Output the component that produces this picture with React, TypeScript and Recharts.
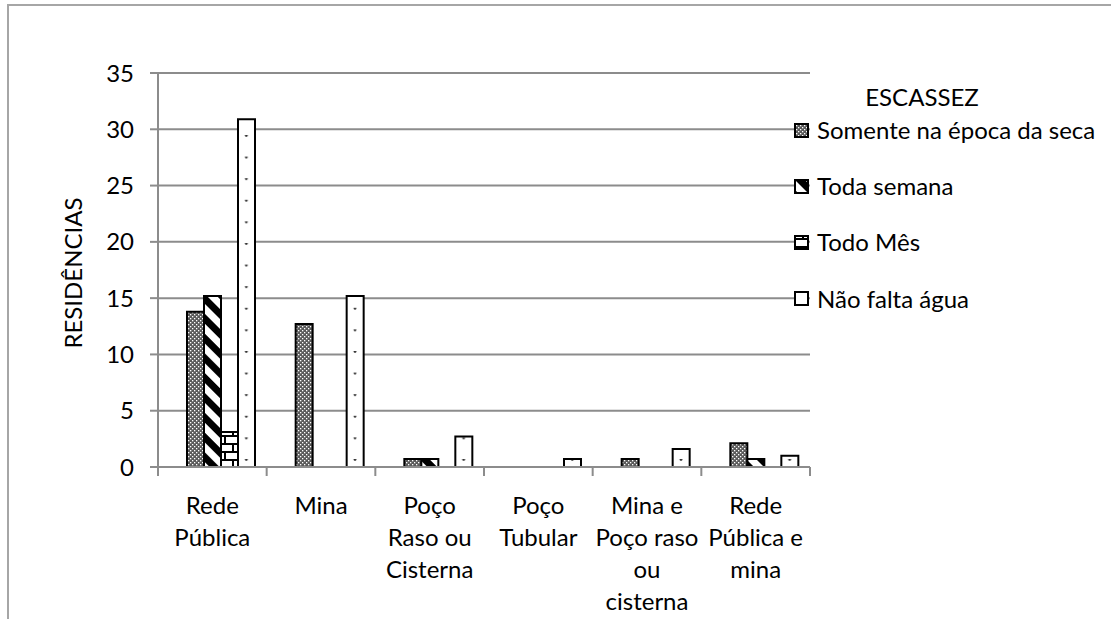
import React from 'react';
import { BarChart, Bar, XAxis, YAxis, CartesianGrid, Label } from 'recharts';

const categories = [
  'Rede Pública',
  'Mina',
  'Poço Raso ou Cisterna',
  'Poço Tubular',
  'Mina e Poço raso ou cisterna',
  'Rede Pública e mina',
];
const categoryLines = [
  ['Rede', 'Pública'],
  ['Mina'],
  ['Poço', 'Raso ou', 'Cisterna'],
  ['Poço', 'Tubular'],
  ['Mina e', 'Poço raso', 'ou', 'cisterna'],
  ['Rede', 'Pública e', 'mina'],
];
const seriesNames = ['Somente na época da seca', 'Toda semana', 'Todo Mês', 'Não falta água'];
const somente = [13.8, 12.7, 0.7, null, 0.7, 2.1];
const todaSemana = [15.2, null, 0.7, null, null, 0.7];
const todoMes = [3.1, null, null, null, null, null];
const naoFalta = [30.9, 15.2, 2.7, 0.7, 1.6, 1.0];
const yTicks = [0, 5, 10, 15, 20, 25, 30, 35];
const legendTitle = 'ESCASSEZ';
const yTitle = 'RESIDÊNCIAS';

const data = categories.map((name, i) => ({
  name,
  somente: somente[i],
  todaSemana: todaSemana[i],
  todoMes: todoMes[i],
  naoFalta: naoFalta[i],
}));

const FONT = 'Lato, "Open Sans", sans-serif';
const FS = 24;
const W = 1111;
const H = 619;
const PLOT_LEFT = 158;
const PLOT_RIGHT = 810;
const PLOT_TOP = 73;
const PLOT_BOTTOM = 467;
const BAND = (PLOT_RIGHT - PLOT_LEFT) / categories.length;
const BAR = 17;
const GRID = '#8c8c8c';
const NF_OFFSET = (PLOT_LEFT + BAND / 2 + 2 * BAR) % BAND;

const Patterns = ({ p }: { p: string }) => (
  <defs>
    <pattern id={`${p}-dots`} patternUnits="userSpaceOnUse" width="4" height="4">
      <rect x="0" y="0" width="4" height="4" fill="#5a5a5a" />
      <rect x="0" y="0" width="1.3" height="1.3" fill="#ffffff" />
      <rect x="2" y="2" width="1.3" height="1.3" fill="#ffffff" />
    </pattern>
    <pattern id={`${p}-diag`} patternUnits="userSpaceOnUse" width="14" height="14" patternTransform="rotate(-45)">
      <rect x="0" y="0" width="14" height="14" fill="#ffffff" />
      <rect x="0" y="0" width="7" height="14" fill="#000000" />
    </pattern>
    <pattern id={`${p}-brick`} patternUnits="userSpaceOnUse" width="16" height="16" y={PLOT_BOTTOM % 16}>
      <rect x="0" y="0" width="16" height="16" fill="#ffffff" />
      <rect x="0" y="0" width="16" height="2" fill="#000" />
      <rect x="0" y="8" width="16" height="2" fill="#000" />
      <rect x="0" y="0" width="2" height="8" fill="#000" />
      <rect x="8" y="8" width="2" height="8" fill="#000" />
    </pattern>
    <pattern id={`${p}-sparse`} patternUnits="userSpaceOnUse" width={BAND} height="21.6" x="0" y="5.4">
      <rect x="0" y="0" width={BAND} height="21.6" fill="#ffffff" />
      <circle cx={NF_OFFSET} cy="0.6" r="1.4" fill="#333" />
    </pattern>
  </defs>
);

const fills = ['dots', 'diag', 'brick', 'sparse'];

const XTick = (props: any) => {
  const { x, index } = props;
  const lines = categoryLines[index] || [];
  const isLast = index === categories.length - 1;
  return (
    <g>
      <line x1={x - BAND / 2} x2={x - BAND / 2} y1={PLOT_BOTTOM} y2={PLOT_BOTTOM + 9} stroke={GRID} strokeWidth={2} />
      {isLast && (
        <line x1={x + BAND / 2} x2={x + BAND / 2} y1={PLOT_BOTTOM} y2={PLOT_BOTTOM + 9} stroke={GRID} strokeWidth={2} />
      )}
      {lines.map((ln, i) => (
        <text key={i} x={x} y={514 + i * 32} textAnchor="middle" fontFamily={FONT} fontSize={FS} fill="#000">
          {ln}
        </text>
      ))}
    </g>
  );
};

const LegendBox = () => (
  <div style={{ position: 'absolute', left: 0, top: 0, width: W, height: H, pointerEvents: 'none', fontFamily: FONT, fontSize: FS, color: '#000' }}>
    <div style={{ position: 'absolute', left: 822, width: 200, top: 97 - 15, lineHeight: '30px', textAlign: 'center' }}>{legendTitle}</div>
    {seriesNames.map((n, i) => {
      const cy = 130 + i * 56.2;
      return (
        <div key={n} style={{ position: 'absolute', left: 794, top: cy - 15, height: 30, display: 'flex', alignItems: 'center', whiteSpace: 'nowrap' }}>
          <svg width="15" height="15" style={{ display: 'block' }}>
            <Patterns p={`lg${i}`} />
            <rect x="1" y="1" width="13" height="13" fill={`url(#lg${i}-${fills[i]})`} stroke="#000" strokeWidth="2" />
          </svg>
          <span style={{ marginLeft: 8, lineHeight: '30px' }}>{n}</span>
        </div>
      );
    })}
  </div>
);

export default function App() {
  return (
    <div style={{ position: 'absolute', left: 0, top: 0, width: W, height: H, overflow: 'hidden', background: '#fff' }}>
      <div style={{ position: 'absolute', left: 7, top: 4, width: 1300, height: 900, border: '2px solid #a6a6a6' }} />
      <div style={{ position: 'absolute', left: 0, top: 0 }}>
        <BarChart
          width={W}
          height={H}
          data={data}
          margin={{ top: PLOT_TOP, right: W - PLOT_RIGHT, bottom: 0, left: 0 }}
          barSize={BAR}
          barGap={0}
        >
          <Patterns p="ch" />
          <CartesianGrid horizontal vertical={false} stroke={GRID} strokeWidth={2} />
          <XAxis
            dataKey="name"
            height={H - PLOT_BOTTOM}
            interval={0}
            tickLine={false}
            axisLine={{ stroke: GRID, strokeWidth: 2 }}
            tick={<XTick />}
          />
          <YAxis
            width={PLOT_LEFT}
            domain={[0, 35]}
            ticks={yTicks}
            interval={0}
            tickSize={8}
            tickMargin={16}
            axisLine={{ stroke: GRID, strokeWidth: 2 }}
            tickLine={{ stroke: GRID, strokeWidth: 2 }}
            tick={{ fill: '#000', fontFamily: FONT, fontSize: FS }}
          >
            <Label
              content={() => (
                <text
                  transform={`translate(72, ${(PLOT_TOP + PLOT_BOTTOM) / 2 + 3}) rotate(-90)`}
                  textAnchor="middle"
                  dominantBaseline="central"
                  fontFamily={FONT}
                  fontSize={FS}
                  fill="#000"
                >
                  {yTitle}
                </text>
              )}
            />
          </YAxis>
          <Bar dataKey="empty" isAnimationActive={false} legendType="none" />
          <Bar dataKey="somente" name={seriesNames[0]} fill="url(#ch-dots)" stroke="#000" strokeWidth={2} isAnimationActive={false} />
          <Bar dataKey="todaSemana" name={seriesNames[1]} fill="url(#ch-diag)" stroke="#000" strokeWidth={2} isAnimationActive={false} />
          <Bar dataKey="todoMes" name={seriesNames[2]} fill="url(#ch-brick)" stroke="#000" strokeWidth={2} isAnimationActive={false} />
          <Bar dataKey="naoFalta" name={seriesNames[3]} fill="url(#ch-sparse)" stroke="#000" strokeWidth={2} isAnimationActive={false} />
        </BarChart>
      </div>
      <LegendBox />
    </div>
  );
}
